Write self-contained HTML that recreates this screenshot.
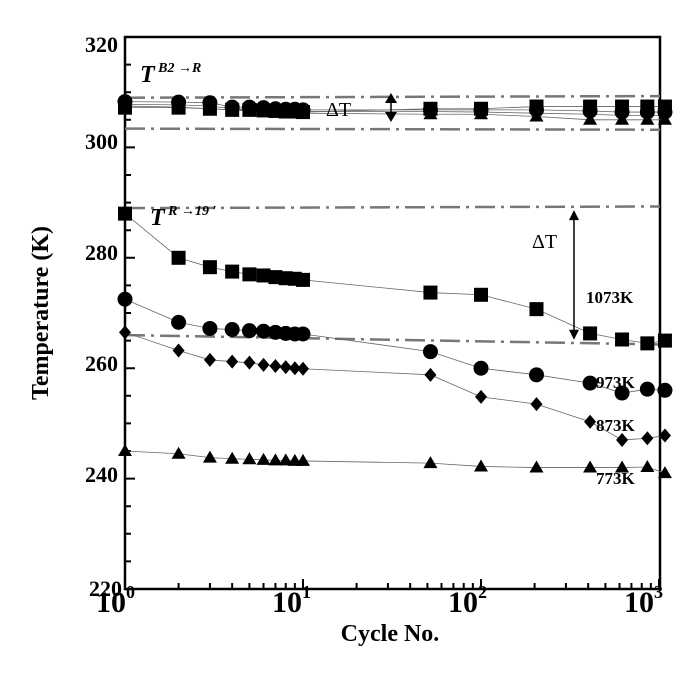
<!DOCTYPE html>
<html><head><meta charset="utf-8"><style>
body{margin:0;background:#fff}
svg{display:block;font-family:"Liberation Serif",serif;font-weight:bold}
</style></head><body>
<svg id="s" width="698" height="674" viewBox="0 0 698 674" xmlns="http://www.w3.org/2000/svg">
<rect x="125" y="37" width="535" height="552" fill="none" stroke="#000" stroke-width="2.5"/>
<g id="g"></g>
<g font-size="22">
<text x="118" y="52" text-anchor="end">320</text>
<text x="118" y="149" text-anchor="end">300</text>
<text x="118" y="260" text-anchor="end">280</text>
<text x="118" y="371" text-anchor="end">260</text>
<text x="118" y="482" text-anchor="end">240</text>
<text x="122" y="596" text-anchor="end">220</text>
</g>
<g font-size="30">
<text x="96" y="612">10<tspan font-size="18" dy="-14">0</tspan></text>
<text x="272" y="612">10<tspan font-size="18" dy="-14">1</tspan></text>
<text x="448" y="612">10<tspan font-size="18" dy="-14">2</tspan></text>
<text x="624" y="612">10<tspan font-size="18" dy="-14">3</tspan></text>
</g>
<text x="390" y="641" font-size="24" text-anchor="middle">Cycle No.</text>
<text transform="translate(48,313) rotate(-90)" font-size="24" text-anchor="middle">Temperature (K)</text>
<text x="140" y="82" font-size="24" font-style="italic">T<tspan font-size="14" dy="-10"> B2 →R</tspan></text>
<text x="150" y="225" font-size="24" font-style="italic">T<tspan font-size="14" dy="-10"> R →19 ′</tspan></text>
<text x="326" y="116" font-size="20" font-weight="normal">ΔT</text>
<text x="532" y="248" font-size="20" font-weight="normal">ΔT</text>
<g font-size="17">
<text x="586" y="303">1073K</text>
<text x="596" y="388">973K</text>
<text x="596" y="431">873K</text>
<text x="596" y="484">773K</text>
</g>
</svg>
<script>
var g=document.getElementById('g'),NS="http://www.w3.org/2000/svg";
function X(c){return 125+178*Math.log10(c)}
function Y(t){return 589-(t-220)*5.52}
function el(n,a){var e=document.createElementNS(NS,n);for(var k in a)e.setAttribute(k,a[k]);g.appendChild(e);return e}
var h='';
for(var d=0;d<3;d++)for(var i=2;i<=10;i++){var x=X(i*Math.pow(10,d));var L=i==10?10:6;h+='M'+x+' 589v-'+L;}
for(var t=220;t<=320;t+=5){var y=Y(t);var L=(t%20==0)?10:6;h+='M125 '+y+'h'+L;}
el('path',{d:h,stroke:'#000','stroke-width':2,fill:'none'});
var dd={stroke:'#777','stroke-width':2.5,'stroke-dasharray':'20 6 3 6',fill:'none'};
function ln(a,b){var o=Object.assign({},dd);o.d='M125 '+Y(a)+'L660 '+Y(b);el('path',o)}
ln(309,309.3);ln(303.4,303.2);ln(289,289.3);ln(266,264.3);
var C=[1,2,3,4,5,6,7,8,9,10,52,100,205,410,620,860,1080];
var S={
sq:[288,280,278.3,277.5,277,276.8,276.5,276.3,276.2,276,273.7,273.3,270.7,266.3,265.2,264.5,265],
ci:[272.5,268.3,267.2,267,266.8,266.7,266.5,266.3,266.2,266.2,263,260,258.8,257.3,255.5,256.2,256],
di:[266.5,263.2,261.5,261.2,261,260.6,260.4,260.2,260,259.9,258.8,254.8,253.5,250.3,247,247.3,247.8],
tr:[245,244.5,243.8,243.6,243.5,243.4,243.3,243.3,243.2,243.2,242.8,242.2,242,242,242,242.1,241]};
var T2={tr:[307.5,307.3,307,306.8,306.6,306.5,306.4,306.3,306.3,306.2,306,306,305.6,305,305,305,305],
ci:[308.3,308.2,308.1,307.3,307.3,307.2,307,306.9,306.9,306.8,306.8,306.8,306.8,306.6,306.4,306.4,306.4],
di:[307.8,307.7,307.5,307,306.9,306.8,306.7,306.6,306.6,306.5,306.5,306.4,306.2,306,305.8,305.8,305.8],
sq:[307.2,307.2,307,306.8,306.8,306.7,306.6,306.5,306.5,306.4,307,307,307.4,307.4,307.4,307.4,307.4]};
function mk(type,x,y){
 if(type=='sq')el('rect',{x:x-7,y:y-7,width:14,height:14});
 else if(type=='ci')el('circle',{cx:x,cy:y,r:7.5});
 else if(type=='di')el('path',{d:'M'+x+' '+(y-7)+'l6 7l-6 7l-6-7z'});
 else el('path',{d:'M'+x+' '+(y-7)+'l7 12h-14z'});}
function series(D){for(var k in D){var p='';for(var i=0;i<C.length;i++)p+=(i?'L':'M')+X(C[i])+' '+Y(D[k][i]);
 el('path',{d:p,stroke:'#666','stroke-width':0.8,fill:'none'});}
 for(var k in D)for(var i=0;i<C.length;i++)mk(k,X(C[i]),Y(D[k][i]));}
series(S);series(T2);
el('path',{d:'M574 '+(Y(289)+4)+'V'+(Y(264.8)-4),stroke:'#000','stroke-width':1.5});
el('path',{d:'M574 '+(Y(289)+2)+'l-5 10h10z'});
el('path',{d:'M574 '+(Y(264.8)-2)+'l-5 -10h10z'});
el('path',{d:'M391 99V116',stroke:'#000','stroke-width':1.5});
el('path',{d:'M391 93l-6 10h12z'});el('path',{d:'M391 122l-6 -10h12z'});
</script>
</body></html>
